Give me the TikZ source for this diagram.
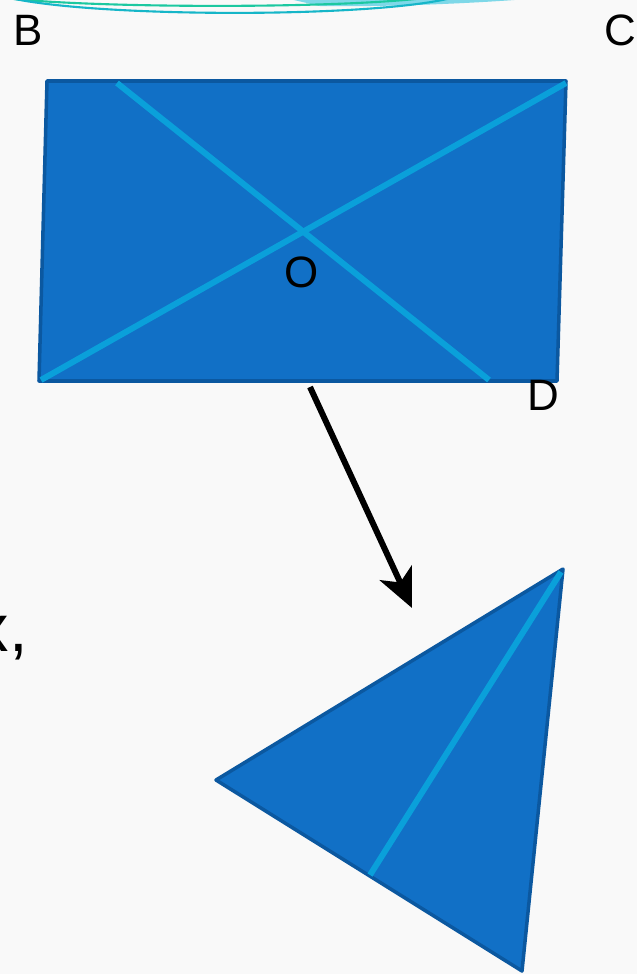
\documentclass[tikz,border=0pt]{standalone}
\usepackage{fontspec}
\setmainfont{Liberation Sans}
\usepackage{tikz}
\usetikzlibrary{arrows.meta}
\definecolor{shapeColor}{RGB}{17, 112, 198}
\definecolor{edgeColor}{RGB}{11, 88, 160}
\definecolor{diagColor}{RGB}{10, 160, 218}
\definecolor{paperColor}{RGB}{249, 249, 249}
\definecolor{tealColor}{RGB}{22, 182, 200}
\definecolor{greenColor}{RGB}{28, 200, 160}
\definecolor{skyColor}{RGB}{126, 216, 232}

\begin{document}
\begin{tikzpicture}[x=0.02cm, y=-0.02cm, font=\fontsize{25}{30}\selectfont,
    figfill/.style={draw=edgeColor, line width=2pt, fill=shapeColor, line join=round},
    diag/.style={diagColor, line width=3.4pt},
    lbl/.style={inner sep=0pt, text=black}]
    % Page area (637 x 974 px)
    \fill[paperColor] (0,0) rectangle (637,974);
    \useasboundingbox (0,0) rectangle (637,974);
    \clip (0,0) rectangle (637,974);

    % Slide decoration at the top edge
    \fill[skyColor] (285,-2) -- (540,-2) .. controls (470,4) and (380,7) .. (320,6) -- cycle;
    \draw[greenColor, line width=1.2pt] (5,-2) .. controls (90,8) and (330,9) .. (425,-2);
    \draw[tealColor, line width=1.2pt] (10,-2) .. controls (100,18) and (380,18) .. (455,-3);

    % Rectangle with its two diagonals
    \draw[figfill] (47,81) -- (566,81) -- (557,381) -- (39,381) -- cycle;
    \draw[diag] (117,83) -- (489,380);
    \draw[diag] (41,380) -- (566,83);

    % Vertex labels
    \node[lbl] (B) at (28,30) {B};
    \node[lbl] (C) at (620,30) {C};
    \node[lbl] (O) at (302,272) {O};
    \node[lbl] (D) at (543,395) {D};

    % Arrow down to the triangle
    \coordinate (arrowFrom) at (310,387);
    \coordinate (arrowTo) at (412,608);
    \draw[line width=3.4pt, -{Stealth[length=22pt, width=20pt, inset=6pt]}] (arrowFrom) -- (arrowTo);

    % Triangle with its inner line
    \draw[figfill] (216,780) -- (563,569) -- (522,971) -- cycle;
    \draw[diag] (561,572) -- (370,875);

    % Cut-off text at the left edge
    \node[lbl, anchor=base east, font=\fontsize{38}{44}\selectfont] (xcomma) at (28,651) {x,};
\end{tikzpicture}
\end{document}
